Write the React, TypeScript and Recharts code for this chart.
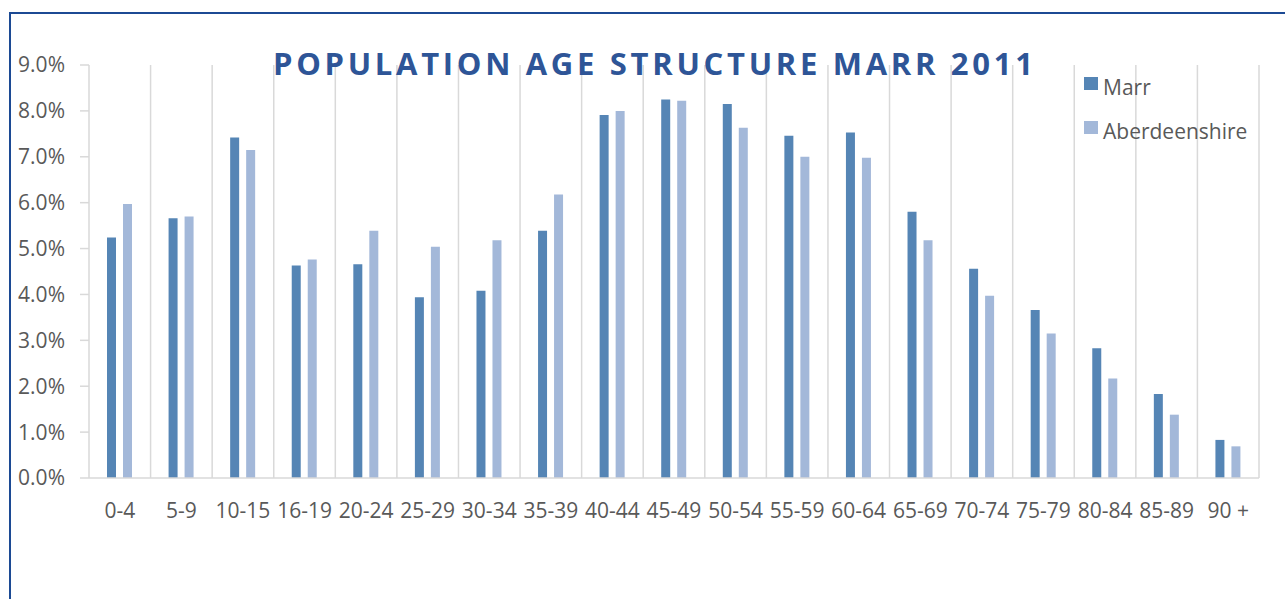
import { BarChart, Bar, XAxis, YAxis, CartesianGrid } from 'recharts';

// age bands and shares (%)
const ageBands = [
    '0-4', '5-9', '10-15', '16-19', '20-24', '25-29', '30-34', '35-39', '40-44', '45-49',
    '50-54', '55-59', '60-64', '65-69', '70-74', '75-79', '80-84', '85-89', '90 +',
];
const marr = [5.24, 5.66, 7.42, 4.63, 4.66, 3.94, 4.08, 5.39, 7.91, 8.25, 8.15, 7.46, 7.53, 5.8, 4.56, 3.66, 2.83, 1.83, 0.83];
const aberdeenshire = [5.97, 5.7, 7.15, 4.76, 5.39, 5.04, 5.18, 6.18, 8.0, 8.22, 7.63, 7.0, 6.98, 5.18, 3.97, 3.15, 2.17, 1.38, 0.69];
const yTicks = [0, 1, 2, 3, 4, 5, 6, 7, 8, 9];

const series = [
    { key: 'Marr', color: '#5585b5' },
    { key: 'Aberdeenshire', color: '#a3b8d9' },
];

const data = ageBands.map((band, i) => ({ band, Marr: marr[i], Aberdeenshire: aberdeenshire[i] }));

const FONT = '"Open Sans", sans-serif';
const GREY = '#595959';

export default function App() {
    return (
        <div style={{ position: 'absolute', left: 0, top: 0, width: 1285, height: 599, background: '#fff', overflow: 'hidden', fontFamily: FONT }}>
            {/* frame */}
            <div style={{ position: 'absolute', left: 9, top: 12, width: 1290, height: 600, border: '2px solid #1c4a94', boxSizing: 'border-box' }} />
            <BarChart
                width={1285}
                height={599}
                data={data}
                margin={{ top: 65, right: 26, bottom: 91, left: 0 }}
                barGap={7}
                barSize={9}
            >
                <CartesianGrid
                    horizontal={false}
                    stroke="#d9d9d9"
                    strokeWidth={1.5}
                    verticalCoordinatesGenerator={({ offset }: any) =>
                        Array.from({ length: ageBands.length + 1 }, (_, i) => offset.left + (i * offset.width) / ageBands.length)
                    }
                />
                <XAxis
                    dataKey="band"
                    height={30}
                    axisLine={{ stroke: '#d9d9d9', strokeWidth: 1.5 }}
                    tickLine={false}
                    tick={{ fill: GREY, fontSize: 21, fontFamily: FONT }}
                    tickMargin={19}
                    interval={0}
                />
                <YAxis
                    width={89}
                    domain={[0, 9]}
                    ticks={yTicks}
                    tickFormatter={(v: number) => `${v.toFixed(1)}%`}
                    axisLine={false}
                    tickLine={{ stroke: '#d9d9d9', strokeWidth: 1.5 }}
                    tickSize={9}
                    tickMargin={15}
                    tick={{ fill: GREY, fontSize: 21, fontFamily: FONT }}
                />
                <Bar dataKey="Marr" fill={series[0].color} isAnimationActive={false} />
                <Bar dataKey="Aberdeenshire" fill={series[1].color} isAnimationActive={false} />
                <text
                    x={273}
                    y={75}
                    fill="#2e5597"
                    fontFamily={FONT}
                    fontWeight={700}
                    fontSize={31}
                    letterSpacing={3.7}
                >
                    POPULATION AGE STRUCTURE MARR 2011
                </text>
            </BarChart>
            {/* legend */}
            <div style={{ position: 'absolute', left: 1084, top: 65, fontSize: 21, color: GREY, lineHeight: '44px' }}>
                {series.map((s) => (
                    <div key={s.key} style={{ display: 'flex', alignItems: 'center' }}>
                        <span style={{ display: 'inline-block', width: 14, height: 13, background: s.color, marginRight: 5, marginTop: -8 }} />
                        <span>{s.key}</span>
                    </div>
                ))}
            </div>
        </div>
    );
}
